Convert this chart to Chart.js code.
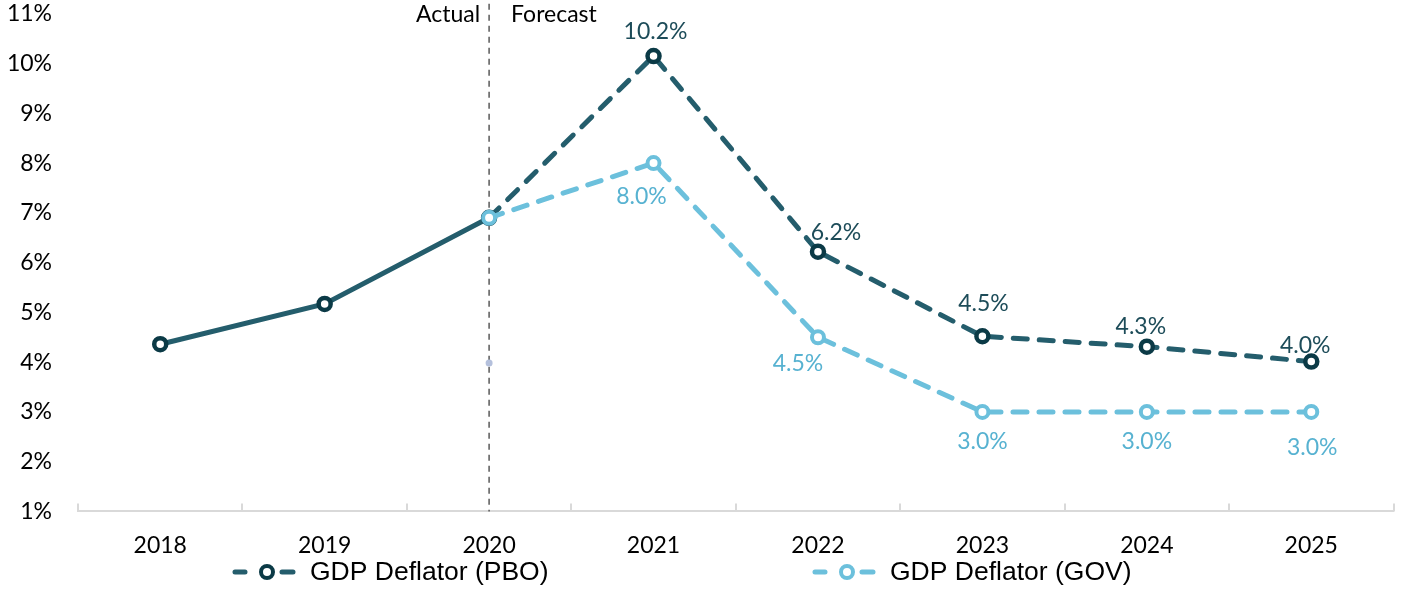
<!DOCTYPE html>
<html>
<head>
<meta charset="utf-8">
<script src="https://cdn.jsdelivr.net/npm/chart.js@4.4.1/dist/chart.umd.min.js"></script>
<style>
  html, body { margin: 0; padding: 0; background: #fff; }
  #wrap { width: 1404px; height: 592px; }
</style>
</head>
<body>
<div id="wrap"><canvas id="myChart"></canvas></div>
<script>
var years = ['2018', '2019', '2020', '2021', '2022', '2023', '2024', '2025'];
var pboValues = [4.36, 5.17, 6.9, 10.15, 6.22, 4.52, 4.31, 4.01];
var govValues = [null, null, 6.9, 8.0, 4.5, 3.0, 3.0, 3.0];
var pboLabels = [null, null, null, '10.2%', '6.2%', '4.5%', '4.3%', '4.0%'];
var govLabels = [null, null, null, '8.0%', '4.5%', '3.0%', '3.0%', '3.0%'];
var strayPoint = [null, null, 3.98, null, null, null, null, null];
var yTicks = [1, 2, 3, 4, 5, 6, 7, 8, 9, 10, 11];

var pboColor = '#245d6c';
var pboMarker = '#0b3a46';
var govColor = '#6cc0dc';
var pboText = '#1d4c59';
var govText = '#57b2d1';
var font = 'Lato';

// label nudges, [dx, dy] from the point
var pboOffsets = [null, null, null, [2, -25], [18, -19], [1, -33], [-6, -20], [-6, -16]];
var govOffsets = [null, null, null, [-12, 33], [-20, 26], [0, 30], [0, 30], [1, 36]];

var extras = {
  id: 'extras',
  beforeDatasetsDraw: function(chart) {
    var ctx = chart.ctx;
    var x = chart.scales.x;
    var area = chart.chartArea;
    ctx.save();
    // small ticks on the axis between categories
    ctx.strokeStyle = '#d9d9d9';
    ctx.lineWidth = 2;
    for (var i = 0; i <= years.length; i++) {
      var px = Math.round(x.getPixelForValue(i - 0.5));
      ctx.beginPath();
      ctx.moveTo(px, area.bottom);
      ctx.lineTo(px, area.bottom - 8);
      ctx.stroke();
    }
    // actual / forecast divider
    var dx = x.getPixelForValue(2);
    ctx.strokeStyle = '#595959';
    ctx.lineWidth = 1.5;
    ctx.setLineDash([6, 5]);
    ctx.beginPath();
    ctx.moveTo(dx, area.top - 10);
    ctx.lineTo(dx, area.bottom);
    ctx.stroke();
    ctx.setLineDash([]);
    ctx.font = '23px ' + font;
    ctx.fillStyle = '#000';
    ctx.textBaseline = 'middle';
    ctx.textAlign = 'right';
    ctx.fillText('Actual', dx - 9, area.top + 1);
    ctx.textAlign = 'left';
    ctx.fillText('Forecast', dx + 22, area.top + 1);
    ctx.restore();
  },
  afterDatasetsDraw: function(chart) {
    var ctx = chart.ctx;
    ctx.save();
    ctx.font = '23px ' + font;
    ctx.textBaseline = 'middle';

    // data labels
    ctx.textAlign = 'center';
    var sets = [[1, pboLabels, pboOffsets, pboText], [0, govLabels, govOffsets, govText]];
    sets.forEach(function(s) {
      var meta = chart.getDatasetMeta(s[0]);
      ctx.fillStyle = s[3];
      s[1].forEach(function(t, i) {
        if (!t) return;
        var pt = meta.data[i];
        ctx.fillText(t, pt.x + s[2][i][0], pt.y + s[2][i][1]);
      });
    });

    // legend
    var ly = chart.height - 20;
    var items = [[232, 'GDP Deflator (PBO)', pboColor, pboMarker], [812, 'GDP Deflator (GOV)', govColor, govColor]];
    items.forEach(function(it) {
      var lx = it[0];
      ctx.strokeStyle = it[2];
      ctx.lineWidth = 5;
      ctx.lineCap = 'round';
      ctx.beginPath();
      ctx.moveTo(lx + 3, ly); ctx.lineTo(lx + 13, ly);
      ctx.moveTo(lx + 50, ly); ctx.lineTo(lx + 61, ly);
      ctx.stroke();
      ctx.beginPath();
      ctx.arc(lx + 35, ly, 6, 0, Math.PI * 2);
      ctx.fillStyle = '#fff';
      ctx.fill();
      ctx.lineWidth = 4;
      ctx.strokeStyle = it[3];
      ctx.stroke();
      ctx.fillStyle = '#000';
      ctx.font = '26.5px "Liberation Sans"';
      ctx.textAlign = 'left';
      ctx.fillText(it[1], lx + 78, ly + 1);
    });
    ctx.restore();
  }
};

var ctx = document.getElementById('myChart').getContext('2d');
var myChart = new Chart(ctx, {
  type: 'line',
  data: {
    labels: years,
    datasets: [{
      label: 'GDP Deflator (GOV)',
      data: govValues,
      order: 1,
      borderColor: govColor,
      borderWidth: 5,
      borderDash: [14, 12],
      borderCapStyle: 'round',
      pointRadius: 6,
      pointBorderWidth: 4,
      pointBackgroundColor: '#fff',
      pointBorderColor: govColor,
      tension: 0
    }, {
      label: 'GDP Deflator (PBO)',
      data: pboValues,
      order: 2,
      borderColor: pboColor,
      borderWidth: 5,
      borderCapStyle: 'round',
      segment: {
        borderDash: function(c) { return c.p0DataIndex >= 2 ? [14, 12] : undefined; }
      },
      pointRadius: 6,
      pointBorderWidth: 4.5,
      pointBackgroundColor: '#fff',
      pointBorderColor: pboMarker,
      tension: 0
    }, {
      label: 'stray',
      data: strayPoint,
      order: 3,
      showLine: false,
      pointRadius: 3.5,
      pointBorderWidth: 0,
      pointBackgroundColor: '#b4c0dc'
    }]
  },
  options: {
    responsive: true,
    maintainAspectRatio: false,
    animation: false,
    layout: { padding: { top: 2, right: 9, bottom: 13, left: 0 } },
    plugins: {
      legend: { display: false },
      tooltip: { enabled: false }
    },
    scales: {
      x: {
        offset: true,
        grid: { display: false, drawTicks: false },
        border: { display: true, color: '#d9d9d9', width: 2 },
        ticks: { color: '#000', font: { family: font, size: 23 }, padding: 20 }
      },
      y: {
        min: 1,
        max: 11,
        afterBuildTicks: function(s) { s.ticks = yTicks.map(function(v) { return { value: v }; }); },
        afterFit: function(s) { s.width = 78; },
        grid: { display: false, drawTicks: true, tickLength: 26 },
        border: { display: false },
        ticks: {
          color: '#000',
          padding: 0,
          font: { family: font, size: 23 },
          callback: function(v) { return v + '%'; }
        }
      }
    }
  },
  plugins: [extras]
});
</script>
</body>
</html>
